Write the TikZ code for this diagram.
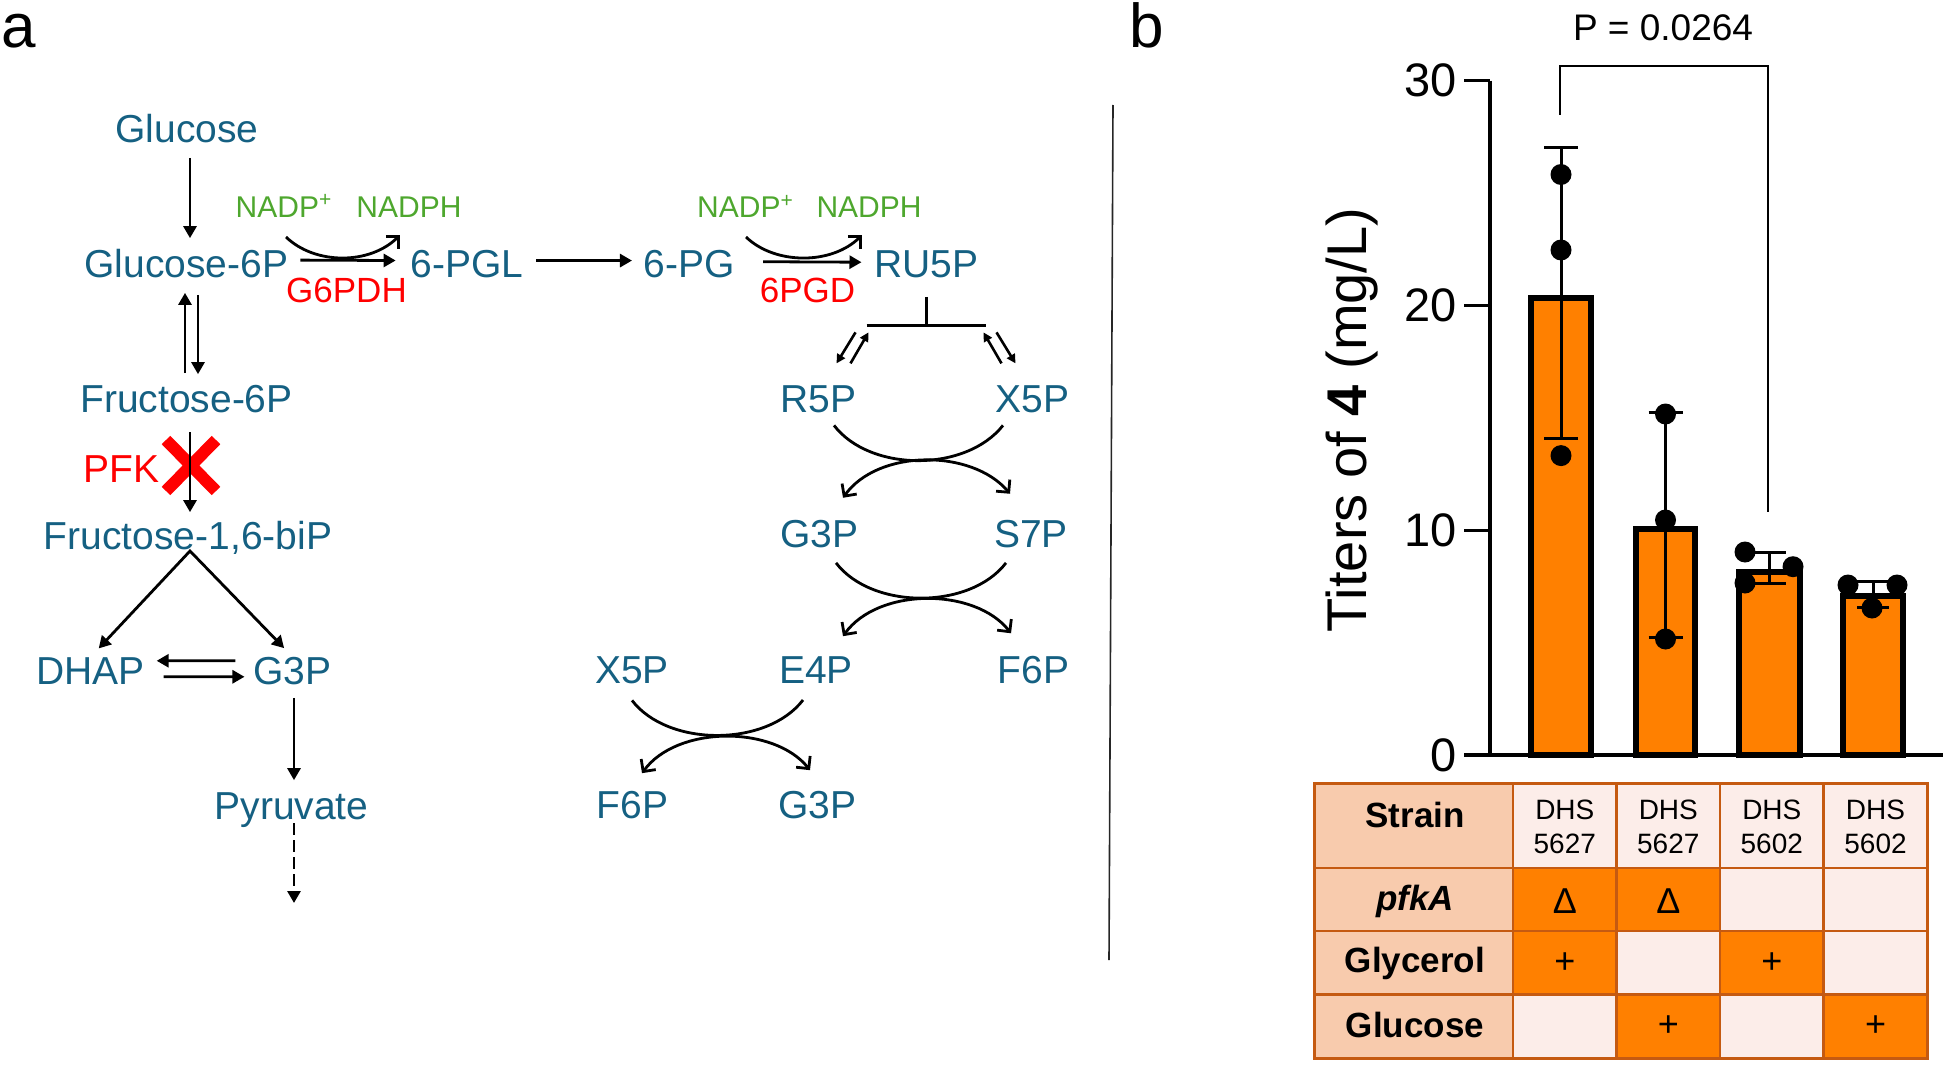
\documentclass[tikz,border=0pt]{standalone}
\usepackage{fontspec}
\setmainfont{Liberation Sans}
\usetikzlibrary{arrows.meta,calc}
\definecolor{metblue}{HTML}{156082}
\definecolor{nadgreen}{HTML}{4EA72E}
\definecolor{barorange}{HTML}{FF8000}
\definecolor{hdrfill}{HTML}{F8CBAD}
\definecolor{lightfill}{HTML}{FCEDE9}
\definecolor{tborder}{HTML}{C55A11}
\begin{document}
\begin{tikzpicture}[x=0.5pt,y=-0.5pt,
  met/.style={font=\fontsize{19.5}{23}\selectfont, text=metblue, inner sep=0pt, outer sep=0pt, anchor=base},
  cof/.style={font=\fontsize{15}{18}\selectfont, text=nadgreen, inner sep=0pt, outer sep=0pt, anchor=base},
  enz/.style={font=\fontsize{17.5}{21}\selectfont, text=red, inner sep=0pt, outer sep=0pt, anchor=base},
  plabel/.style={font=\fontsize{31}{36}\selectfont, inner sep=0pt, anchor=base},
  arr/.style={line width=1.4pt, -{Triangle[length=6pt,width=6.5pt]}},
  sarr/.style={line width=1.3pt, -{Triangle[length=4.5pt,width=4.5pt]}},
  barbarr/.style={line width=1.4pt, -{Straight Barb[length=4.5pt,width=9pt]}},
  dbarbarr/.style={line width=1.4pt, arrows={Straight Barb[length=4.5pt,width=9pt]-Straight Barb[length=4.5pt,width=9pt]}},
  rxncurve/.style={line width=1.4pt},
  chartaxis/.style={line width=1.6pt},
  ticklbl/.style={font=\fontsize{23.5}{28}\selectfont, inner sep=0pt, outer sep=0pt, anchor=east},
  barbox/.style={fill=barorange, draw=black, line width=3pt},
  errbar/.style={line width=1.5pt},
  dotmark/.style={fill=black},
  tbl/.style={font=\fontsize{17.5}{21}\selectfont\bfseries, inner sep=0pt, outer sep=0pt, anchor=base},
  dhs/.style={font=\fontsize{14}{17}\selectfont, inner sep=0pt, outer sep=0pt, anchor=base},
  sym/.style={font=\fontsize{18}{21}\selectfont, inner sep=0pt, outer sep=0pt},
  tline/.style={draw=tborder, line width=1.2pt}
]
\useasboundingbox (0,0) rectangle (1950,1065);

% ---------- panel labels ----------
\node[plabel] (la) at (18.5,48) {a};
\node[plabel] (lb) at (1147,48) {b};

% ---------- metabolites ----------
\node[met] (glc)  at (187,142)   {Glucose};
\node[met] (g6p)  at (186.5,277) {Glucose-6P};
\node[met] (pgl)  at (467,277)   {6-PGL};
\node[met] (pg)   at (689.5,277) {6-PG};
\node[met] (ru5p) at (926.5,277.5) {RU5P};
\node[met] (f6p)  at (186.5,412) {Fructose-6P};
\node[met] (f16)  at (188,549)   {Fructose-1,6-biP};
\node[met] (dhap) at (90.5,684)  {DHAP};
\node[met] (g3pa) at (292.5,684) {G3P};
\node[met] (pyr)  at (291.5,819) {Pyruvate};
\node[met] (r5p)  at (818.5,412) {R5P};
\node[met] (x5pa) at (1032.5,412) {X5P};
\node[met] (g3pb) at (819.5,547) {G3P};
\node[met] (s7p)  at (1031,547)  {S7P};
\node[met] (x5pb) at (632,683)   {X5P};
\node[met] (e4p)  at (816,683)   {E4P};
\node[met] (f6pa) at (1033.5,683) {F6P};
\node[met] (f6pb) at (632.5,818) {F6P};
\node[met] (g3pc) at (817.5,818) {G3P};

% cofactors and enzymes
\node[cof] (nadp1)  at (284,217)   {NADP\textsuperscript{+}};
\node[cof] (nadph1) at (409,217)   {NADPH};
\node[cof] (nadp2)  at (745.5,217.5) {NADP\textsuperscript{+}};
\node[cof] (nadph2) at (869,217.5) {NADPH};
\node[enz] (g6pdh) at (346.5,302) {G6PDH};
\node[enz] (pgd)   at (807.5,302) {6PGD};
\node[enz, font=\fontsize{19.5}{23}\selectfont] (pfk) at (121.5,482) {PFK};

% ---------- glycolysis connectors ----------
\draw[arr, shorten <=7.75pt, shorten >=5.3pt] ($(glc.south)+(3,0)$) -- ($(glc.south |- g6p.north)+(3,0)$);
\draw[arr, shorten <=5.8pt, shorten >=7.75pt] ($(f6p.north)+(-1.5,0)$) -- ($(f6p.north |- g6p.south)+(-1.5,0)$);
\draw[arr, shorten <=8.75pt, shorten >=5.3pt] ($(g6p.south)+(11.5,0)$) -- ($(g6p.south |- f6p.north)+(11.5,0)$);

% knocked-out PFK step
\draw[red, line width=6pt] (166,440) -- (216,491) (216,440) -- (166,491);
\draw[arr, shorten <=10pt, shorten >=4.3pt] ($(f6p.south)+(3.5,0)$) -- ($(f6p.south |- f16.north)+(3.5,0)$);

\coordinate (f16b) at ($(f16.base)+(2,2)$);
\draw[line width=1.4pt, arrows={Triangle[length=6pt,width=6.5pt]-Triangle[length=6pt,width=6.5pt]}, shorten <=6pt, shorten >=6pt] (dhap.north) -- (f16b) -- (g3pa.north);

\draw[arr, shorten <=9pt, shorten >=6pt] ($(g3pa.west)+(0,-9.8)$) -- ($(dhap.east)+(0,-9.8)$);
\draw[arr, shorten <=9.5pt, shorten >=4.5pt] ($(dhap.east)+(0,6.2)$) -- ($(g3pa.west)+(0,6.2)$);

\draw[arr, shorten <=6.75pt, shorten >=6pt] ($(g3pa.south)+(1.5,0)$) -- ($(g3pa.south |- pyr.north)+(1.5,0)$);
\coordinate (pyrend) at (294,903);
\draw[arr, dash pattern=on 6pt off 2.5pt] ($(pyr.base)+(2.5,4)$) -- (pyrend);

% ---------- oxidative PPP ----------
\draw[arr, shorten <=6pt, shorten >=7.5pt] ($(g6p.east)+(0,-3)$) -- ($(pgl.west)+(0,-3)$);
\draw[arr, shorten <=6.5pt, shorten >=6pt] ($(pgl.east)+(0,-3)$) -- ($(pg.west)+(0,-3)$);
\draw[arr, shorten <=14pt, shorten >=6.5pt] ($(pg.east)+(0,-2)$) -- ($(ru5p.west)+(0,-2)$);

\coordinate (cAs) at ($(nadp1.south)+(2,20)$);
\coordinate (cAe) at ($(nadph1.south)+(-9,18)$);
\draw[barbarr] (cAs) .. controls +(29,28) and +(-30,30) .. (cAe);
\coordinate (cBs) at ($(nadp2.south)+(0.5,19.5)$);
\coordinate (cBe) at ($(nadph2.south)+(-7,17.5)$);
\draw[barbarr] (cBs) .. controls +(29,28) and +(-30,30) .. (cBe);

% T junction below RU5P
\coordinate (tj)  at ($(ru5p.south)+(0,47.5)$);
\coordinate (tjl) at ($(tj)+(-60,0)$);
\coordinate (tjr) at ($(tj)+(59,0)$);
\draw[line width=1.4pt, shorten <=9.5pt] (ru5p.south) -- (tj);
\draw[line width=1.4pt] (tjl) -- (tjr);
\draw[sarr] ($(tjl)+(-11,7)$) -- ($(tjl)+(-30,38)$);
\draw[sarr] ($(tjl)+(-16,38)$) -- ($(tjl)+(2,7)$);
\draw[sarr] ($(tjr)+(16,38)$) -- ($(tjr)+(-2,7)$);
\draw[sarr] ($(tjr)+(11,7)$) -- ($(tjr)+(30,38)$);

% ---------- non-oxidative PPP exchanges ----------
\draw[rxncurve] ($(r5p.south)+(15.5,13)$) .. controls +(36,47) and +(-37,47) .. ($(x5pa.south)+(-29.5,13)$);
\draw[dbarbarr] ($(g3pb.north)+(23.5,-22)$) .. controls +(35,-49) and +(-38,-45) .. ($(s7p.north)+(-21,-26)$);

\draw[rxncurve] ($(g3pb.south)+(16.5,15.5)$) .. controls +(36,47) and +(-36,47) .. ($(s7p.south)+(-25,15.5)$);
\draw[dbarbarr] ($(e4p.north)+(27,-20)$) .. controls +(35,-49) and +(-36,-46) .. ($(f6pa.north)+(-22.5,-22.5)$);

\draw[rxncurve] ($(x5pb.south)+(0,17)$) .. controls +(36,47) and +(-36,47) .. ($(e4p.south)+(-13,17)$);
\draw[dbarbarr] ($(f6pb.north)+(9.5,-17.6)$) .. controls +(35,-48) and +(-36,-45) .. ($(g3pc.north)+(-7.5,-20.6)$);

% ---------- divider ----------
\draw[line width=0.8pt, black!85] (1113,105) -- (1109,960);

% ---------- panel b: bar chart ----------
\draw[barbox] (1531,755) rectangle (1591,298);
\draw[barbox] (1636,755) rectangle (1695,528.5);
\draw[barbox] (1739,755) rectangle (1800,572);
\draw[barbox] (1843,755) rectangle (1903,596);

\draw[chartaxis] (1490,80.6) -- (1490,755);
\draw[chartaxis] (1464,755) -- (1943,755);
\foreach \v in {10,20,30} \draw[chartaxis] (1464,{755-22.48*\v}) -- (1490,{755-22.48*\v});

\node[ticklbl] (t0)  at (1457,755)   {0};
\node[ticklbl] (t10) at (1457,530.2) {10};
\node[ticklbl] (t20) at (1457,305.4) {20};
\node[ticklbl] (t30) at (1457,80.6)  {30};

\node[rotate=90, anchor=base, inner sep=0pt, font=\fontsize{28}{33}\selectfont] (ylab) at (1366,420) {Titers of \textbf{4} (mg/L)};

% error bars
\draw[errbar] (1561,148) -- (1561,438) (1544,148) -- (1578,148) (1544,438) -- (1578,438);
\draw[errbar] (1665.5,412) -- (1665.5,637) (1648.5,412) -- (1682.5,412) (1648.5,637) -- (1682.5,637);
\draw[errbar] (1769.5,552) -- (1769.5,583) (1753.5,552) -- (1785.5,552) (1753.5,583) -- (1785.5,583);
\draw[errbar] (1873,581) -- (1873,607) (1857,581) -- (1889,581) (1857,607) -- (1889,607);

% data points
\foreach \px/\py in {1561/174.5, 1561/250, 1561/455.6, 1665.5/414, 1665.5/520, 1665.5/639, 1745/552, 1745/583, 1793/566.7, 1848/585, 1897/585, 1872/608}
  \fill[dotmark] (\px,\py) circle[radius=5.25pt];

% significance bracket
\draw[line width=1.4pt] (1560,115) -- (1560,66) -- (1768,66) -- (1768,512);
\node[anchor=base, inner sep=0pt, font=\fontsize{18.5}{22}\selectfont] (pval) at (1663,41) {P = 0.0264};

% ---------- table ----------
\fill[hdrfill] (1314.5,783.3) rectangle (1513,1058.3);
\fill[lightfill] (1513,783.3) rectangle (1927.4,1058.3);
\fill[barorange] (1513,867.7) rectangle (1720,931);
\fill[barorange] (1513,931) rectangle (1616.6,994.3);
\fill[barorange] (1720,931) rectangle (1823.6,994.3);
\fill[barorange] (1616.6,994.3) rectangle (1720,1058.3);
\fill[barorange] (1823.6,994.3) rectangle (1927.4,1058.3);
\draw[tline] (1314.5,783.3) rectangle (1927.4,1058.3);
\foreach \cx in {1513,1616.6,1720,1823.6} \draw[tline] (\cx,783.3) -- (\cx,1058.3);
\foreach \ry in {867.7,931,994.3} \draw[tline] (1314.5,\ry) -- (1927.4,\ry);

\node[tbl] (strain) at (1415,827) {Strain};
\node[tbl, font=\fontsize{17.5}{21}\selectfont\bfseries\itshape] (pfka) at (1415,910) {pfkA};
\node[tbl] (glyc) at (1415,972) {Glycerol};
\node[tbl] (gluc) at (1415,1037) {Glucose};

\node[dhs] (dhs1) at (1564.8,819) {DHS};
\node[dhs] (num1) at (1564.8,853) {5627};
\node[dhs] (dhs2) at (1668.3,819) {DHS};
\node[dhs] (num2) at (1668.3,853) {5627};
\node[dhs] (dhs3) at (1771.8,819) {DHS};
\node[dhs] (num3) at (1771.8,853) {5602};
\node[dhs] (dhs4) at (1875.5,819) {DHS};
\node[dhs] (num4) at (1875.5,853) {5602};

\node[sym, anchor=base] (del1) at (1564.8,913) {Δ};
\node[sym, anchor=base] (del2) at (1668.3,913) {Δ};
\node[sym] (pl1) at (1564.8,962.7) {+};
\node[sym] (pl2) at (1771.8,962.7) {+};
\node[sym] (pl3) at (1668.3,1026.3) {+};
\node[sym] (pl4) at (1875.5,1026.3) {+};
\end{tikzpicture}
\end{document}
